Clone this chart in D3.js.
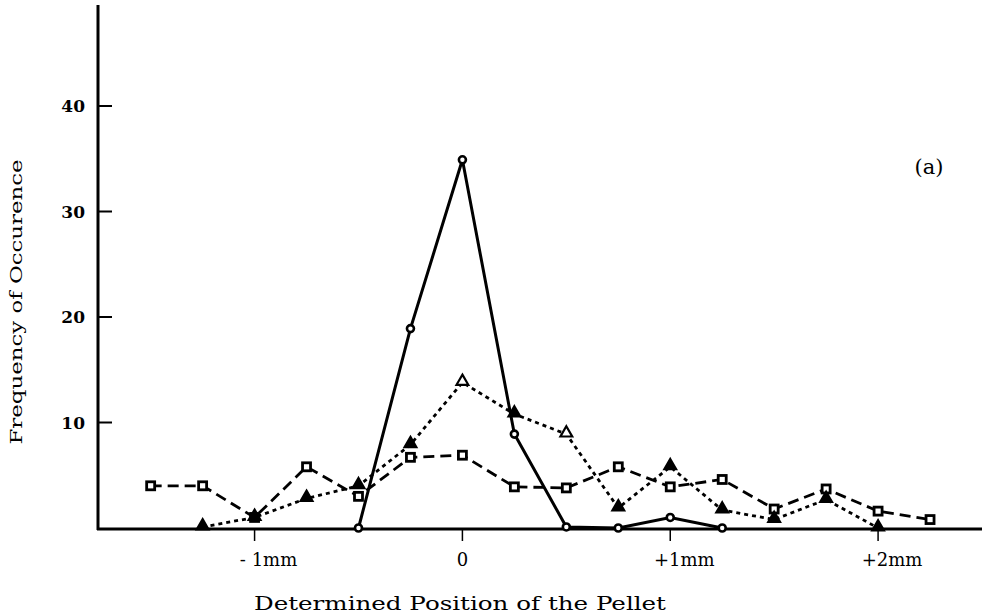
<!DOCTYPE html>
<html>
<head>
<meta charset="utf-8">
<script src="https://cdn.jsdelivr.net/npm/d3@7"></script>
<style>
  body { margin: 0; background: #fff; }
  text { font-family: "DejaVu Serif", "Liberation Serif", serif; fill: #000; }
</style>
</head>
<body>
<div id="chart"></div>
<script>
// positions (mm) and counts
var posSquare = [-1.5, -1.25, -1, -0.75, -0.5, -0.25, 0, 0.25, 0.5, 0.75, 1, 1.25, 1.5, 1.75, 2, 2.25];
var valSquare = [4, 4, 1, 5.8, 3, 6.7, 6.9, 3.9, 3.8, 5.8, 3.9, 4.6, 1.8, 3.7, 1.6, 0.8];

var posTri = [-1.25, -1, -0.75, -0.5, -0.25, 0, 0.25, 0.5, 0.75, 1, 1.25, 1.5, 1.75, 2];
var valTri = [0.1, 1, 2.8, 4, 7.9, 13.8, 10.8, 8.9, 1.9, 5.8, 1.7, 0.8, 2.7, 0];
var triOpen = [0, 0.5];   // hollow triangles

var posCircle = [-0.5, -0.25, 0, 0.25, 0.5, 0.75, 1, 1.25];
var valCircle = [0, 18.9, 34.9, 8.9, 0.1, 0, 1, 0];

var xTicks = [-1, 0, 1, 2];
var xTickLabels = ["- 1mm", "0", "+1mm", "+2mm"];
var yTicks = [10, 20, 30, 40];

var width = 982, height = 616;

var svg = d3.select("#chart").append("svg")
  .attr("width", width)
  .attr("height", height);

var x = d3.scaleLinear().domain([-1.75, 2.5]).range([98.7, 982]);
var y = d3.scaleLinear().domain([0, 40]).range([528, 106]);

function zip(p, v) { return p.map(function(d, i) { return {x: d, y: v[i]}; }); }
var sq = zip(posSquare, valSquare),
    tri = zip(posTri, valTri),
    circ = zip(posCircle, valCircle);

var line = d3.line()
  .x(function(d) { return x(d.x); })
  .y(function(d) { return y(d.y); });

// y axis
svg.append("line")
  .attr("x1", 98).attr("x2", 98)
  .attr("y1", 5).attr("y2", 530)
  .attr("stroke", "#000").attr("stroke-width", 3);

svg.selectAll(".ytick").data(yTicks).enter().append("line")
  .attr("x1", 98).attr("x2", 112)
  .attr("y1", function(d) { return y(d); })
  .attr("y2", function(d) { return y(d); })
  .attr("stroke", "#000").attr("stroke-width", 2);

svg.selectAll(".ylab").data(yTicks).enter().append("text")
  .attr("x", 85)
  .attr("y", function(d) { return y(d); })
  .attr("dy", "0.36em")
  .attr("text-anchor", "end")
  .style("font-size", "17px")
  .style("font-weight", "bold")
  .text(function(d) { return d; });

// x axis
svg.append("line")
  .attr("x1", 97).attr("x2", 982)
  .attr("y1", 529).attr("y2", 529)
  .attr("stroke", "#000").attr("stroke-width", 3);

svg.selectAll(".xtick").data(xTicks).enter().append("line")
  .attr("x1", function(d) { return x(d); })
  .attr("x2", function(d) { return x(d); })
  .attr("y1", 529).attr("y2", 541)
  .attr("stroke", "#000").attr("stroke-width", 1.5);

svg.selectAll(".xlab").data(xTicks).enter().append("text")
  .attr("x", function(d) { return x(d); })
  .attr("y", 566)
  .attr("dx", function(d, i) { return xTickLabels[i].indexOf("mm") >= 0 ? 14 : 0; })
  .attr("text-anchor", "middle")
  .style("font-size", "18px")
  .text(function(d, i) { return xTickLabels[i]; });

// titles
svg.append("text")
  .attr("x", 460).attr("y", 610)
  .attr("text-anchor", "middle")
  .attr("textLength", 412)
  .attr("lengthAdjust", "spacingAndGlyphs")
  .style("font-size", "18px")
  .text("Determined Position of the Pellet");

svg.append("text")
  .attr("transform", "translate(22,302) rotate(-90)")
  .attr("text-anchor", "middle")
  .attr("textLength", 285)
  .attr("lengthAdjust", "spacingAndGlyphs")
  .style("font-size", "17px")
  .text("Frequency of Occurence");

svg.append("text")
  .attr("x", 929).attr("y", 174)
  .attr("text-anchor", "middle")
  .style("font-size", "21px")
  .text("(a)");

// dashed series (squares)
svg.append("path")
  .datum(sq)
  .attr("d", line)
  .attr("fill", "none")
  .attr("stroke", "#000")
  .attr("stroke-width", 2.8)
  .attr("stroke-dasharray", "11,6");

// dotted series (triangles)
svg.append("path")
  .datum(tri)
  .attr("d", line)
  .attr("fill", "none")
  .attr("stroke", "#000")
  .attr("stroke-width", 2.8)
  .attr("stroke-dasharray", "4,4");

// solid series (circles)
svg.append("path")
  .datum(circ)
  .attr("d", line)
  .attr("fill", "none")
  .attr("stroke", "#000")
  .attr("stroke-width", 3);

// markers
svg.selectAll(".sq").data(sq).enter().append("rect")
  .attr("x", function(d) { return x(d.x) - 4; })
  .attr("y", function(d) { return y(d.y) - 4; })
  .attr("width", 8).attr("height", 8)
  .attr("fill", "#fff")
  .attr("stroke", "#000")
  .attr("stroke-width", 2.8);

var triSym = d3.symbol().type(d3.symbolTriangle).size(60);
svg.selectAll(".tri").data(tri).enter().append("path")
  .attr("d", triSym)
  .attr("transform", function(d) { return "translate(" + x(d.x) + "," + (y(d.y) - 1) + ")"; })
  .attr("fill", function(d) { return triOpen.indexOf(d.x) >= 0 ? "#fff" : "#000"; })
  .attr("stroke", "#000")
  .attr("stroke-width", 2.2);

svg.selectAll(".circ").data(circ).enter().append("circle")
  .attr("cx", function(d) { return x(d.x); })
  .attr("cy", function(d) { return y(d.y); })
  .attr("r", 3.5)
  .attr("fill", "#fff")
  .attr("stroke", "#000")
  .attr("stroke-width", 2.6);
</script>
</body>
</html>
